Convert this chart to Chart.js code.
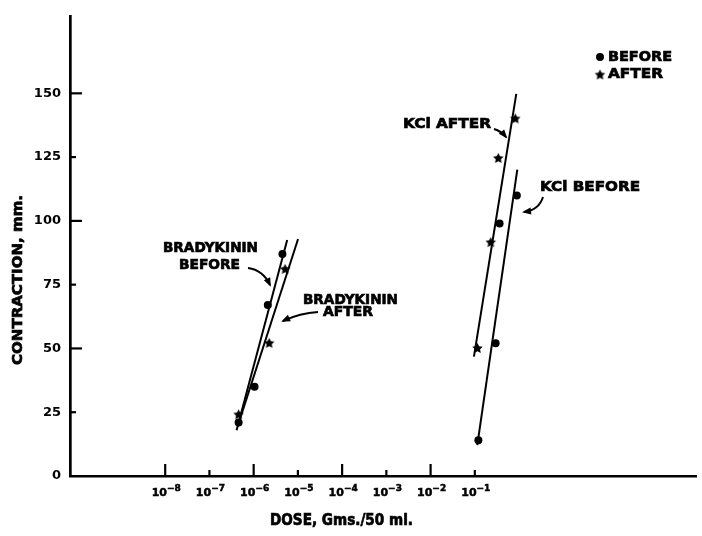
<!DOCTYPE html>
<html><head><meta charset="utf-8">
<script src="https://cdn.jsdelivr.net/npm/chart.js@4/dist/chart.umd.min.js"></script>
<style>html,body{margin:0;padding:0;background:#fff}canvas{display:block}</style>
</head><body>
<canvas id="c" width="702" height="536"></canvas>
<script>
// ---- Data: x = log10(dose, Gms./50 ml.), y = contraction (mm) ----
const bradyBeforeDose = [-6.34, -5.98, -5.68, -5.35];
const bradyBeforeContraction = [21, 35, 67, 87];
const bradyAfterDose = [-6.34, -5.65, -5.29];
const bradyAfterContraction = [24, 52, 81];
const kclBeforeDose = [-0.92, -0.53, -0.44, -0.05];
const kclBeforeContraction = [14, 52, 99, 110];
const kclAfterDose = [-0.94, -0.64, -0.47, -0.085];
const kclAfterContraction = [50, 91.5, 124.5, 140];

// fitted lines (end points)
const bradyBeforeLineDose = [-6.386, -5.242];
const bradyBeforeLineContraction = [17.9, 92.5];
const bradyAfterLineDose = [-6.363, -4.996];
const bradyAfterLineContraction = [19.4, 92.9];
const kclAfterLineDose = [-1.02, -0.063];
const kclAfterLineContraction = [46.8, 149.8];
const kclBeforeLineDose = [-0.944, -0.04];
const kclBeforeLineContraction = [12.1, 120.1];

// ticks
const xTickValues = [-8, -7, -6, -5, -4, -3, -2, -1];
const xTickBase = '10';
const xTickExponents = ['\u22128', '\u22127', '\u22126', '\u22125', '\u22124', '\u22123', '\u22122', '\u22121'];
const yTickValues = [0, 25, 50, 75, 100, 125, 150];
const yTickLabels = ['0', '25', '50', '75', '100', '125', '150'];

const FONT = '"DejaVu Sans", "Liberation Sans", sans-serif';

function pts(xs, ys) { return xs.map((x, i) => ({x: x, y: ys[i]})); }

// filled star marker
function makeStar(r) {
  const c = document.createElement('canvas');
  const s = Math.ceil(r * 2 + 2);
  c.width = s; c.height = s;
  const g = c.getContext('2d');
  g.fillStyle = '#000';
  g.beginPath();
  for (let i = 0; i < 10; i++) {
    const rr = i % 2 === 0 ? r : r * 0.5;
    const a = -Math.PI / 2 + i * Math.PI / 5;
    const px = s / 2 + rr * Math.cos(a), py = s / 2 + rr * Math.sin(a);
    if (i === 0) g.moveTo(px, py); else g.lineTo(px, py);
  }
  g.closePath(); g.fill();
  return c;
}
const starImg = makeStar(5.5);

function lineDs(xs, ys) {
  return {data: pts(xs, ys), showLine: true, borderColor: '#000', borderWidth: 2,
          pointRadius: 0, fill: false, tension: 0};
}
function dotDs(xs, ys) {
  return {data: pts(xs, ys), showLine: false, pointStyle: 'circle', pointRadius: 4,
          backgroundColor: '#000', borderColor: '#000', borderWidth: 0};
}
function starDs(xs, ys) {
  return {data: pts(xs, ys), showLine: false, pointStyle: starImg, pointRadius: 5,
          backgroundColor: '#000', borderColor: '#000'};
}

function fitText(ctx, text, cx, cy, w, size, rotate) {
  ctx.save();
  ctx.font = 'bold ' + size + 'px ' + FONT;
  const m = ctx.measureText(text).width;
  ctx.translate(cx, cy);
  if (rotate) ctx.rotate(-Math.PI / 2);
  ctx.scale(w / m, 1);
  ctx.fillStyle = '#000';
  ctx.strokeStyle = '#000';
  ctx.lineWidth = 0.7;
  ctx.textAlign = 'center';
  ctx.textBaseline = 'middle';
  ctx.fillText(text, 0, 0);
  ctx.strokeText(text, 0, 0);
  ctx.restore();
}

function arrow(ctx, x0, y0, cx, cy, x1, y1) {
  ctx.save();
  ctx.strokeStyle = '#000'; ctx.fillStyle = '#000'; ctx.lineWidth = 2;
  ctx.beginPath(); ctx.moveTo(x0, y0); ctx.quadraticCurveTo(cx, cy, x1, y1); ctx.stroke();
  const a = Math.atan2(y1 - cy, x1 - cx);
  const L = 7, W = 3.5;
  ctx.beginPath();
  ctx.moveTo(x1 + Math.cos(a) * 2, y1 + Math.sin(a) * 2);
  ctx.lineTo(x1 - Math.cos(a) * L + Math.sin(a) * W, y1 - Math.sin(a) * L - Math.cos(a) * W);
  ctx.lineTo(x1 - Math.cos(a) * L - Math.sin(a) * W, y1 - Math.sin(a) * L + Math.cos(a) * W);
  ctx.closePath(); ctx.fill();
  ctx.restore();
}

const annotations = [
  ['BRADYKININ', 210.5, 248, 95],
  ['BEFORE', 209.5, 265, 61],
  ['BRADYKININ', 350.5, 300, 95],
  ['AFTER', 348, 312, 50],
  ['KCl AFTER', 447, 124, 88],
  ['KCl BEFORE', 590, 187, 100],
  ['BEFORE', 640, 57, 64],
  ['AFTER', 635.5, 74.5, 55]
];

const decor = {
  id: 'decor',
  afterDraw(chart) {
    const ctx = chart.ctx, xs = chart.scales.x, ys = chart.scales.y, ca = chart.chartArea;
    ctx.save();
    ctx.strokeStyle = '#000'; ctx.lineWidth = 2.2;
    // inward ticks
    yTickValues.forEach((v, i) => {
      const py = ys.getPixelForValue(v);
      if (v === 0) return;
      const len = (i % 2 === 0) ? 12 : 6;
      ctx.beginPath(); ctx.moveTo(ca.left, py); ctx.lineTo(ca.left + len, py); ctx.stroke();
    });
    xTickValues.forEach((v, i) => {
      const px = xs.getPixelForValue(v);
      const len = (i % 2 === 0) ? 12 : 6;
      ctx.beginPath(); ctx.moveTo(px, ca.bottom); ctx.lineTo(px, ca.bottom - len); ctx.stroke();
    });
    ctx.restore();
    // x tick labels: 10 with raised exponent
    ctx.save();
    ctx.fillStyle = '#000'; ctx.strokeStyle = '#000'; ctx.lineWidth = 0.5;
    ctx.textBaseline = 'alphabetic'; ctx.textAlign = 'left';
    xTickValues.forEach((v, i) => {
      const px = xs.getPixelForValue(v);
      ctx.font = 'bold 11px ' + FONT;
      const wb = ctx.measureText(xTickBase).width;
      ctx.font = 'bold 9px ' + FONT;
      const we = ctx.measureText(xTickExponents[i]).width;
      const x0 = px + 1 - (wb + we) / 2;
      ctx.font = 'bold 11px ' + FONT;
      ctx.fillText(xTickBase, x0, 496); ctx.strokeText(xTickBase, x0, 496);
      ctx.font = 'bold 9px ' + FONT;
      ctx.fillText(xTickExponents[i], x0 + wb, 491); ctx.strokeText(xTickExponents[i], x0 + wb, 491);
    });
    ctx.restore();
    annotations.forEach(a => fitText(ctx, a[0], a[1], a[2], a[3], 14, false));
    fitText(ctx, 'CONTRACTION, mm.', 18, 280, 170, 14, true);
    fitText(ctx, 'DOSE, Gms./50 ml.', 341.5, 521, 143, 15, false);
    // legend markers
    ctx.save(); ctx.fillStyle = '#000';
    ctx.beginPath(); ctx.arc(600, 57, 4, 0, Math.PI * 2); ctx.fill();
    ctx.drawImage(starImg, 600 - starImg.width / 2, 75 - starImg.height / 2);
    ctx.restore();
    // arrows
    arrow(ctx, 248, 268, 263, 270, 270, 285);
    arrow(ctx, 318, 312, 300, 313, 283, 321);
    arrow(ctx, 494, 129, 501, 131, 506, 137);
    arrow(ctx, 543, 197, 539, 210, 524, 212);
  }
};

new Chart(document.getElementById('c'), {
  type: 'scatter',
  data: {
    datasets: [
      lineDs(bradyBeforeLineDose, bradyBeforeLineContraction),
      lineDs(bradyAfterLineDose, bradyAfterLineContraction),
      lineDs(kclAfterLineDose, kclAfterLineContraction),
      lineDs(kclBeforeLineDose, kclBeforeLineContraction),
      dotDs(bradyBeforeDose, bradyBeforeContraction),
      starDs(bradyAfterDose, bradyAfterContraction),
      dotDs(kclBeforeDose, kclBeforeContraction),
      starDs(kclAfterDose, kclAfterContraction)
    ]
  },
  options: {
    responsive: false,
    animation: false,
    events: [],
    layout: {padding: {top: 13, right: 1, left: 0, bottom: 0}},
    scales: {
      x: {
        type: 'linear', min: -10.152, max: 4.0,
        afterFit: s => { s.height = 60; },
        afterBuildTicks: s => { s.ticks = xTickValues.map(v => ({value: v})); },
        grid: {display: false, drawTicks: false},
        border: {display: true, color: '#000', width: 2.5},
        ticks: {display: false}
      },
      y: {
        type: 'linear', min: 0, max: 180,
        afterFit: s => { s.width = 70; },
        afterBuildTicks: s => { s.ticks = yTickValues.map(v => ({value: v})); },
        grid: {display: false, drawTicks: false},
        border: {display: true, color: '#000', width: 2.7},
        ticks: {
          autoSkip: false, padding: 9, color: '#000',
          font: {family: FONT, size: 13, weight: 'bold'},
          callback: v => { const i = yTickValues.indexOf(v); return i >= 0 ? yTickLabels[i] : ''; }
        }
      }
    },
    plugins: {legend: {display: false}, tooltip: {enabled: false}, title: {display: false}}
  },
  plugins: [decor]
});
</script>
</body></html>
